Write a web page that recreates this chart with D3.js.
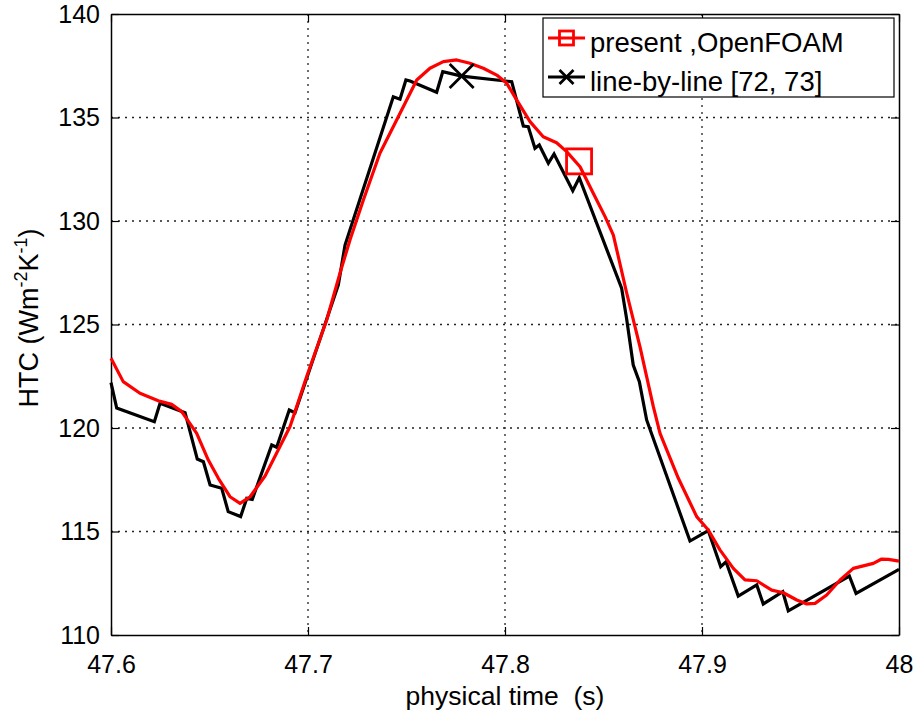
<!DOCTYPE html>
<html>
<head>
<meta charset="utf-8">
<script src="https://cdn.jsdelivr.net/npm/d3@7"></script>
<style>
  body { margin: 0; background: #fff; }
  svg { display: block; font-family: "Liberation Sans", Arial, sans-serif; }
</style>
</head>
<body>
<div id="chart"></div>
<script>
// line-by-line [72, 73]
const lblTime = [47.6000, 47.6029, 47.6220, 47.6249, 47.6376, 47.6438, 47.6469, 47.6503, 47.6562, 47.6595,
  47.6658, 47.6689, 47.6717, 47.6816, 47.6841, 47.6905, 47.6934, 47.7154, 47.7188, 47.7433,
  47.7467, 47.7497, 47.7518, 47.7653, 47.7684, 47.7780, 47.8034, 47.8093, 47.8118, 47.8152,
  47.8174, 47.8220, 47.8249, 47.8344, 47.8377, 47.8592, 47.8617, 47.8651, 47.8682, 47.8719,
  47.8939, 47.9032, 47.9095, 47.9122, 47.9184, 47.9278, 47.9311, 47.9410, 47.9438, 47.9748,
  47.9782, 48.0000];
const lblHTC = [122.19, 120.96, 120.30, 121.19, 120.74, 118.50, 118.37, 117.25, 117.09, 115.96,
  115.72, 116.60, 116.55, 119.18, 119.07, 120.87, 120.74, 126.91, 128.84, 136.00,
  135.88, 136.81, 136.76, 136.22, 137.21, 137.00, 136.73, 134.59, 134.56, 133.51,
  133.67, 132.79, 133.24, 131.46, 132.09, 126.75, 125.30, 123.04, 122.24, 120.39,
  114.54, 115.04, 113.30, 113.54, 111.88, 112.42, 111.50, 112.09, 111.17, 112.85,
  112.01, 113.17];

// present, OpenFOAM
const ofTime = [47.6000, 47.6062, 47.6147, 47.6240, 47.6308, 47.6359, 47.6435, 47.6494, 47.6545, 47.6604,
  47.6655, 47.6706, 47.6782, 47.6909, 47.6993, 47.7095, 47.7162, 47.7213, 47.7281, 47.7365,
  47.7450, 47.7552, 47.7619, 47.7687, 47.7755, 47.7822, 47.7890, 47.7958, 47.8009, 47.8059,
  47.8127, 47.8194, 47.8262, 47.8313, 47.8381, 47.8448, 47.8508, 47.8550, 47.8618, 47.8685,
  47.8753, 47.8787, 47.8821, 47.8880, 47.8973, 47.9032, 47.9091, 47.9159, 47.9218, 47.9278,
  47.9354, 47.9413, 47.9481, 47.9532, 47.9574, 47.9633, 47.9701, 47.9768, 47.9870, 47.9912,
  47.9946, 48.0000];
const ofHTC = [123.37, 122.24, 121.68, 121.32, 121.14, 120.79, 119.74, 118.45, 117.57, 116.68,
  116.36, 116.68, 117.68, 120.07, 122.48, 125.22, 127.47, 129.08, 131.01, 133.27,
  134.88, 136.81, 137.38, 137.70, 137.78, 137.62, 137.38, 137.05, 136.65, 135.85,
  134.80, 134.07, 133.78, 133.35, 132.62, 131.34, 130.21, 129.32, 126.51, 123.93,
  121.03, 119.74, 118.94, 117.57, 115.72, 115.07, 114.11, 113.22, 112.66, 112.62,
  112.17, 112.04, 111.69, 111.50, 111.53, 111.93, 112.66, 113.22, 113.46, 113.67,
  113.65, 113.57];

// one marker per series
const ofMarker = [47.8376, 132.88];
const lblMarker = [47.778, 137.0];

const xTicks = [47.6, 47.7, 47.8, 47.9, 48];
const yTicks = [110, 115, 120, 125, 130, 135, 140];
const legendNames = ["present ,OpenFOAM", "line-by-line [72, 73]"];

const W = 919, H = 718;
const margin = {left: 111, top: 14, right: 20, bottom: 83};
const width = W - margin.left - margin.right;
const height = H - margin.top - margin.bottom;

const svg = d3.select("#chart").append("svg").attr("width", W).attr("height", H);
const g = svg.append("g").attr("transform", `translate(${margin.left},${margin.top})`);

const x = d3.scaleLinear().domain([47.6, 48]).range([0, width]);
const y = d3.scaleLinear().domain([110, 140]).range([height, 0]);

// grid
g.append("g").selectAll("line").data(xTicks.slice(1, -1)).enter().append("line")
  .attr("x1", d => x(d)).attr("x2", d => x(d)).attr("y1", 0).attr("y2", height)
  .attr("stroke", "#222").attr("stroke-width", 1.3).attr("stroke-dasharray", "2,5");
g.append("g").selectAll("line").data(yTicks.slice(1, -1)).enter().append("line")
  .attr("y1", d => y(d)).attr("y2", d => y(d)).attr("x1", 0).attr("x2", width)
  .attr("stroke", "#222").attr("stroke-width", 1.3).attr("stroke-dasharray", "2,5");

// axes
g.append("g").attr("transform", `translate(0,${height})`)
  .call(d3.axisBottom(x).tickValues(xTicks).tickSizeInner(-8).tickSizeOuter(0).tickPadding(20)
    .tickFormat(d3.format("")));
g.append("g")
  .call(d3.axisLeft(y).tickValues(yTicks).tickSizeInner(-8).tickSizeOuter(0).tickPadding(11));
g.append("g").attr("transform", `translate(${width},0)`)
  .call(d3.axisRight(y).tickValues(yTicks).tickSizeInner(-8).tickSizeOuter(0).tickFormat(""));
g.append("g")
  .call(d3.axisTop(x).tickValues(xTicks).tickSizeInner(-8).tickSizeOuter(0).tickFormat(""));

g.selectAll(".domain").attr("stroke", "#000").attr("stroke-width", 1.5);
g.selectAll(".tick line").attr("stroke", "#000").attr("stroke-width", 1.2);
g.selectAll(".tick text").attr("font-size", 25).attr("fill", "#000")
  .attr("font-family", "Liberation Sans, Arial, sans-serif");

// lines
const line = d3.line().x(d => x(d[0])).y(d => y(d[1]));
const lblData = lblTime.map((t, i) => [t, lblHTC[i]]);
const ofData = ofTime.map((t, i) => [t, ofHTC[i]]);

g.append("path").datum(lblData).attr("d", line)
  .attr("fill", "none").attr("stroke", "#000").attr("stroke-width", 3.2).attr("stroke-linejoin", "miter");
g.append("path").datum(ofData).attr("d", line)
  .attr("fill", "none").attr("stroke", "#ff0000").attr("stroke-width", 3.2).attr("stroke-linejoin", "round");

function square(sel, cx, cy, s) {
  sel.append("rect").attr("x", cx - s / 2).attr("y", cy - s / 2).attr("width", s).attr("height", s)
    .attr("fill", "none").attr("stroke", "#ff0000").attr("stroke-width", 2.8);
}
function cross(sel, cx, cy, s) {
  const h = s / 2;
  sel.append("path").attr("d", `M${cx - h},${cy - h}L${cx + h},${cy + h}M${cx - h},${cy + h}L${cx + h},${cy - h}`)
    .attr("stroke", "#000").attr("stroke-width", 2.8).attr("fill", "none");
}
square(g, x(ofMarker[0]), y(ofMarker[1]), 25);
cross(g, x(lblMarker[0]), y(lblMarker[1]), 24);

// legend
const leg = svg.append("g").attr("transform", "translate(543,18)");
leg.append("rect").attr("width", 351).attr("height", 79)
  .attr("fill", "#fff").attr("stroke", "#000").attr("stroke-width", 1.2);
const rowY = [20, 59];
leg.append("line").attr("x1", 5).attr("x2", 42).attr("y1", rowY[0]).attr("y2", rowY[0])
  .attr("stroke", "#ff0000").attr("stroke-width", 3.2);
square(leg, 23.5, rowY[0], 14);
leg.append("line").attr("x1", 5).attr("x2", 42).attr("y1", rowY[1]).attr("y2", rowY[1])
  .attr("stroke", "#000").attr("stroke-width", 3.2);
cross(leg, 23.5, rowY[1], 14);
leg.selectAll("text.lg").data(legendNames).enter().append("text")
  .attr("x", 47).attr("y", (d, i) => rowY[i] + 14)
  .attr("font-size", 27.5).attr("fill", "#000").text(d => d);

// axis labels
svg.append("text").attr("x", margin.left + width / 2).attr("y", 705)
  .attr("text-anchor", "middle").attr("font-size", 26.5).style("white-space", "pre")
  .text("physical time  (s)");

const yl = svg.append("text").attr("transform", "translate(38,318) rotate(-90)")
  .attr("text-anchor", "middle").attr("font-size", 27);
yl.append("tspan").text("HTC (Wm");
yl.append("tspan").attr("font-size", 18).attr("dy", -11).text("-2");
yl.append("tspan").attr("dy", 11).text("K");
yl.append("tspan").attr("font-size", 18).attr("dy", -11).text("-1");
yl.append("tspan").attr("dy", 11).text(")");
</script>
</body>
</html>
